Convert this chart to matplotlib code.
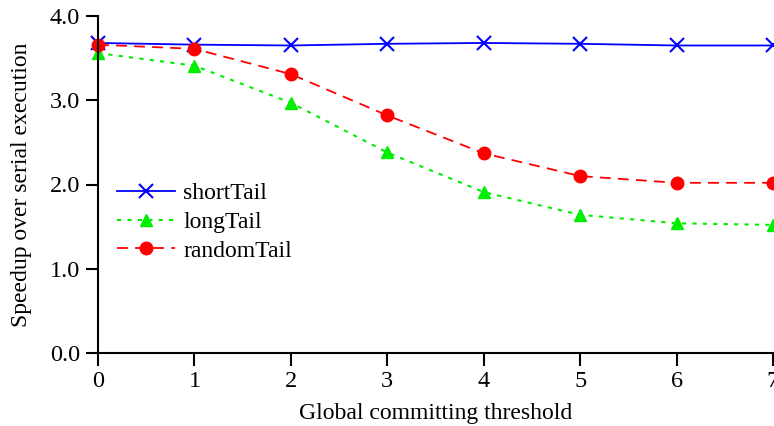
import matplotlib
matplotlib.use("Agg")
import matplotlib.pyplot as plt

thresholds = [0, 1, 2, 3, 4, 5, 6, 7]
short_tail = [3.68, 3.66, 3.65, 3.67, 3.68, 3.67, 3.65, 3.65]
long_tail = [3.56, 3.41, 2.97, 2.38, 1.91, 1.64, 1.54, 1.52]
random_tail = [3.66, 3.61, 3.31, 2.82, 2.37, 2.10, 2.02, 2.02]
y_ticks = [0.0, 1.0, 2.0, 3.0, 4.0]
y_tick_labels = ["0.0", "1.0", "2.0", "3.0", "4.0"]

plt.rcParams['font.family'] = ['Liberation Serif', 'DejaVu Serif']

W, H = 774, 426
fig = plt.figure(figsize=(W / 100, H / 100), dpi=100)
ax = fig.add_axes([98 / W, (H - 353) / H, (773 - 98) / W, (353 - 16) / H])

ax.plot(thresholds, short_tail, color='#0000ff', linestyle='-', linewidth=1.3,
        marker='x', markersize=10, markeredgewidth=1.5, label='shortTail', clip_on=False)
ax.plot(thresholds, long_tail, color='#00ee00', linestyle=(0, (2, 3)), linewidth=1.5,
        marker='^', markersize=9, label='longTail', clip_on=False)
ax.plot(thresholds, random_tail, color='#ff0000', linestyle=(0, (6, 4)), linewidth=1.3,
        marker='o', markersize=9, label='randomTail', clip_on=False)

ax.set_xlim(0, 7)
ax.set_ylim(0, 4.0)
ax.set_xticks(thresholds)
ax.set_yticks(y_ticks)
ax.set_yticklabels(y_tick_labels)
ax.tick_params(direction='out', length=9, width=1.5, labelsize=17.5, pad=4)
for s in ['top', 'right']:
    ax.spines[s].set_visible(False)
for s in ['left', 'bottom']:
    ax.spines[s].set_linewidth(1.5)

ax.set_xlabel('Global committing threshold', fontsize=17, labelpad=8)
ax.set_ylabel('Speedup over serial execution', fontsize=17, labelpad=13)

ax.legend(loc='upper left', bbox_to_anchor=(0.028, 0.505), frameon=False,
          fontsize=17, handlelength=2.45, handletextpad=0.35, labelspacing=0.3,
          borderaxespad=0.0, borderpad=0.0)

fig.savefig('out.png', dpi=100)
